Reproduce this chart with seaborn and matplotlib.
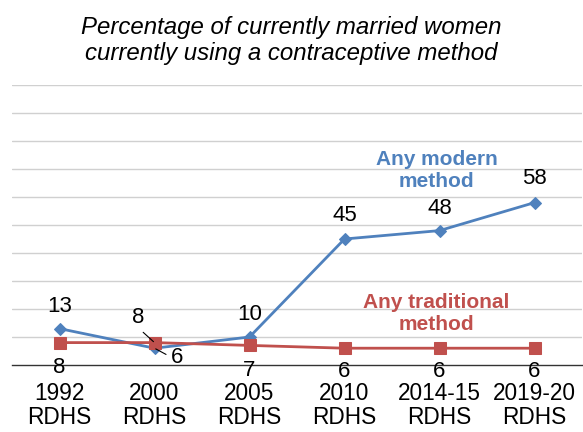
import matplotlib
matplotlib.use("Agg")
import matplotlib.pyplot as plt
import seaborn as sns
import pandas as pd

# Survey rounds and contraceptive prevalence (%) among currently married women
surveys = ["1992\nRDHS", "2000\nRDHS", "2005\nRDHS", "2010\nRDHS", "2014-15\nRDHS", "2019-20\nRDHS"]
modern = [13, 6, 10, 45, 48, 58]
traditional = [8, 8, 7, 6, 6, 6]
series_names = ["Any modern method", "Any traditional method"]

BLUE = "#4F81BD"
RED = "#C0504D"

sns.set_theme(style="white")
plt.rcParams["font.family"] = ["Liberation Sans", "DejaVu Sans"]

df = pd.DataFrame({
    "survey": surveys * 2,
    "value": modern + traditional,
    "series": [series_names[0]] * len(surveys) + [series_names[1]] * len(surveys),
})

fig = plt.figure(figsize=(5.83, 4.32), dpi=100)
ax = fig.add_axes([12 / 583, 67 / 432, 570 / 583, 280 / 432])

# horizontal gridlines every 10 points
for v in range(10, 101, 10):
    ax.axhline(v, color="#D0D0D0", lw=1.0, zorder=0)

sns.lineplot(data=df[df.series == series_names[0]], x="survey", y="value",
             color=BLUE, marker="D", markersize=6.5, markeredgecolor=BLUE,
             lw=2.0, sort=False, ax=ax, zorder=3)
sns.lineplot(data=df[df.series == series_names[1]], x="survey", y="value",
             color=RED, marker="s", markersize=8.5, markeredgecolor=RED,
             lw=2.0, sort=False, ax=ax, zorder=4)

ax.set_xlim(-0.5, len(surveys) - 0.5)
ax.set_ylim(0, 100)
ax.set_yticks([])
ax.set_xlabel("")
ax.set_ylabel("")
for s in ["left", "right", "top"]:
    ax.spines[s].set_visible(False)
ax.spines["bottom"].set_color("#333333")
ax.spines["bottom"].set_linewidth(1.0)
ax.tick_params(axis="x", length=0, pad=12, labelsize=16.3, colors="black")
for lab in ax.get_xticklabels():
    lab.set_linespacing(1.08)

# value labels: (dx, dy) offsets in points; leader lines start at the given
# relative spot on the label box
modern_offsets = [(0, 16), (16, -7), (0, 16), (0, 17), (0, 16), (0, 17)]
traditional_offsets = [(0, -18), (-11.5, 18), (0, -18), (0, -17), (0, -17), (0, -17)]
modern_leader = [None, (0.0, 0.55), None, None, None, None]
traditional_leader = [None, (0.5, 0.0), None, None, None, None]

def label_series(values, offsets, leaders):
    for i, (v, off, lead) in enumerate(zip(values, offsets, leaders)):
        kw = {}
        if lead is not None:
            kw["arrowprops"] = dict(arrowstyle="-", color="black", lw=0.8,
                                    shrinkA=1, shrinkB=1, relpos=lead)
        ax.annotate(str(v), xy=(i, v), xytext=off, textcoords="offset points",
                    ha="center", va="center", fontsize=16, color="black",
                    zorder=6, **kw)

label_series(modern, modern_offsets, modern_leader)
label_series(traditional, traditional_offsets, traditional_leader)

# series names placed next to their lines
ax.text(3.97, 69.5, "Any modern\nmethod", color=BLUE, fontsize=15,
        fontweight="bold", ha="center", va="center", linespacing=1.15)
ax.text(3.97, 18.4, "Any traditional\nmethod", color=RED, fontsize=15,
        fontweight="bold", ha="center", va="center", linespacing=1.15)

fig.text(0.5, (432 - 60) / 432,
         "Percentage of currently married women\ncurrently using a contraceptive method",
         ha="center", va="baseline", fontsize=17.3, fontstyle="italic",
         color="black", linespacing=1.17)

fig.savefig("out.png", dpi=100, facecolor="white")
